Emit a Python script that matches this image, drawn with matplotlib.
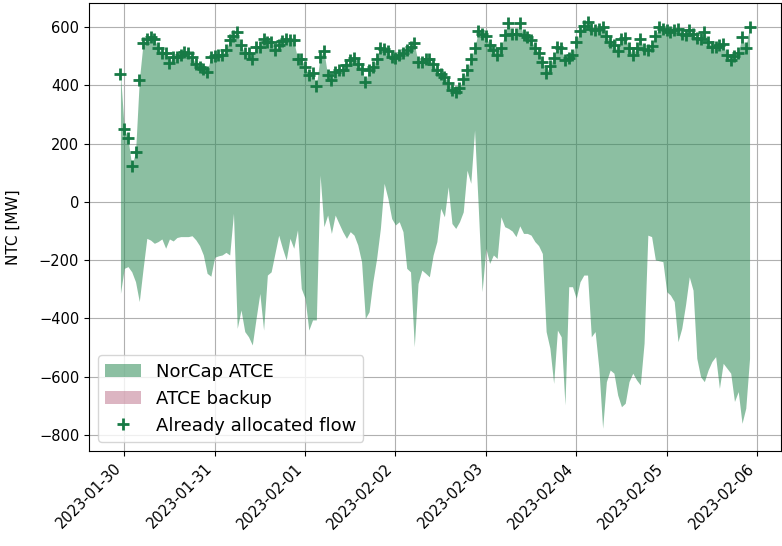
import matplotlib
matplotlib.use("Agg")
import matplotlib.pyplot as plt
import matplotlib.dates as mdates
import pandas as pd
import numpy as np

start = "2023-01-29 23:00"
n_hours = 168

already_allocated = [
    440, 252, 218, 124, 170, 418, 544, 559, 567, 559, 530, 510,
    513, 478, 498, 498, 506, 515, 510, 496, 475, 464, 456, 447,
    498, 502, 504, 504, 521, 555, 570, 584, 538, 510, 510, 492,
    533, 533, 561, 550, 550, 521, 538, 552, 559, 555, 555, 492,
    492, 464, 435, 441, 399, 498, 518, 435, 418, 447, 452, 452,
    470, 487, 495, 475, 458, 412, 452, 464, 492, 527, 525, 518,
    498, 495, 504, 510, 522, 533, 544, 481, 481, 490, 490, 472,
    452, 438, 430, 410, 384, 376, 390, 422, 452, 490, 527, 586,
    575, 570, 538, 521, 506, 529, 573, 613, 578, 578, 613, 573,
    567, 555, 530, 510, 481, 441, 467, 495, 533, 527, 487, 495,
    506, 550, 586, 605, 618, 595, 590, 595, 601, 570, 550, 538,
    518, 561, 563, 527, 506, 527, 559, 525, 521, 535, 570, 600,
    593, 590, 584, 590, 593, 578, 573, 590, 575, 563, 561, 584,
    550, 533, 533, 538, 541, 504, 487, 502, 510, 567, 530, 601,
]

norcap_upper = list(already_allocated)

norcap_lower = [
    -314, -228, -222, -240, -274, -342, -230, -125, -131, -142, -136, -127,
    -159, -127, -134, -122, -119, -119, -119, -116, -130, -150, -182, -245,
    -255, -190, -185, -182, -173, -182, -39, -434, -371, -445, -463, -491,
    -400, -314, -440, -251, -240, -177, -114, -159, -199, -125, -159, -96,
    -297, -331, -440, -405, -405, 92, -85, -45, -108, -45, -74, -102,
    -125, -102, -114, -148, -205, -400, -377, -274, -194, -91, 64, 12,
    -57, -79, -68, -102, -228, -240, -497, -280, -234, -245, -257, -182,
    -136, -22, -51, 52, -74, -91, -68, -34, 109, 64, 247, -22,
    -308, -159, -211, -182, -194, -51, -85, -91, -100, -119, -82, -108,
    -108, -114, -136, -150, -177, -445, -502, -623, -440, -463, -697, -291,
    -291, -331, -274, -251, -251, -463, -445, -571, -777, -617, -577, -588,
    -663, -703, -691, -617, -588, -611, -628, -485, -114, -119, -199, -202,
    -205, -308, -320, -342, -480, -434, -354, -257, -303, -537, -600, -617,
    -577, -548, -531, -640, -554, -571, -588, -685, -651, -760, -708, -537,
]

backup_lower = []
backup_upper = []

times = pd.date_range(start, periods=n_hours, freq="h")

fig = plt.figure(figsize=(7.82, 5.46), dpi=100)
ax = fig.add_axes([89 / 782, (546 - 451) / 546, (781 - 89) / 782, (451 - 3) / 546])

ax.fill_between(times, norcap_lower, norcap_upper, color="#2e8b57", alpha=0.55,
                linewidth=0, label="NorCap ATCE")
ax.fill_between(pd.to_datetime(backup_lower), backup_lower, backup_upper,
                color="#c07890", alpha=0.55, linewidth=0, label="ATCE backup")
ax.plot(times, already_allocated, linestyle="none", marker="+", markersize=8,
        markeredgewidth=2, color="#177a45", label="Already allocated flow")

ax.grid(True, color="#b0b0b0", linewidth=0.8)
ax.set_axisbelow(True)
ax.set_ylim(-855, 683)
ax.set_ylabel("NTC [MW]", fontsize=11, labelpad=13)
ax.tick_params(labelsize=10.5)
ax.xaxis.set_major_locator(mdates.DayLocator())
ax.xaxis.set_major_formatter(mdates.DateFormatter("%Y-%m-%d"))
for lab in ax.get_xticklabels():
    lab.set_rotation(45)
    lab.set_ha("right")
ax.legend(loc="lower left", fontsize=13)

fig.savefig("out.png", dpi=100)
